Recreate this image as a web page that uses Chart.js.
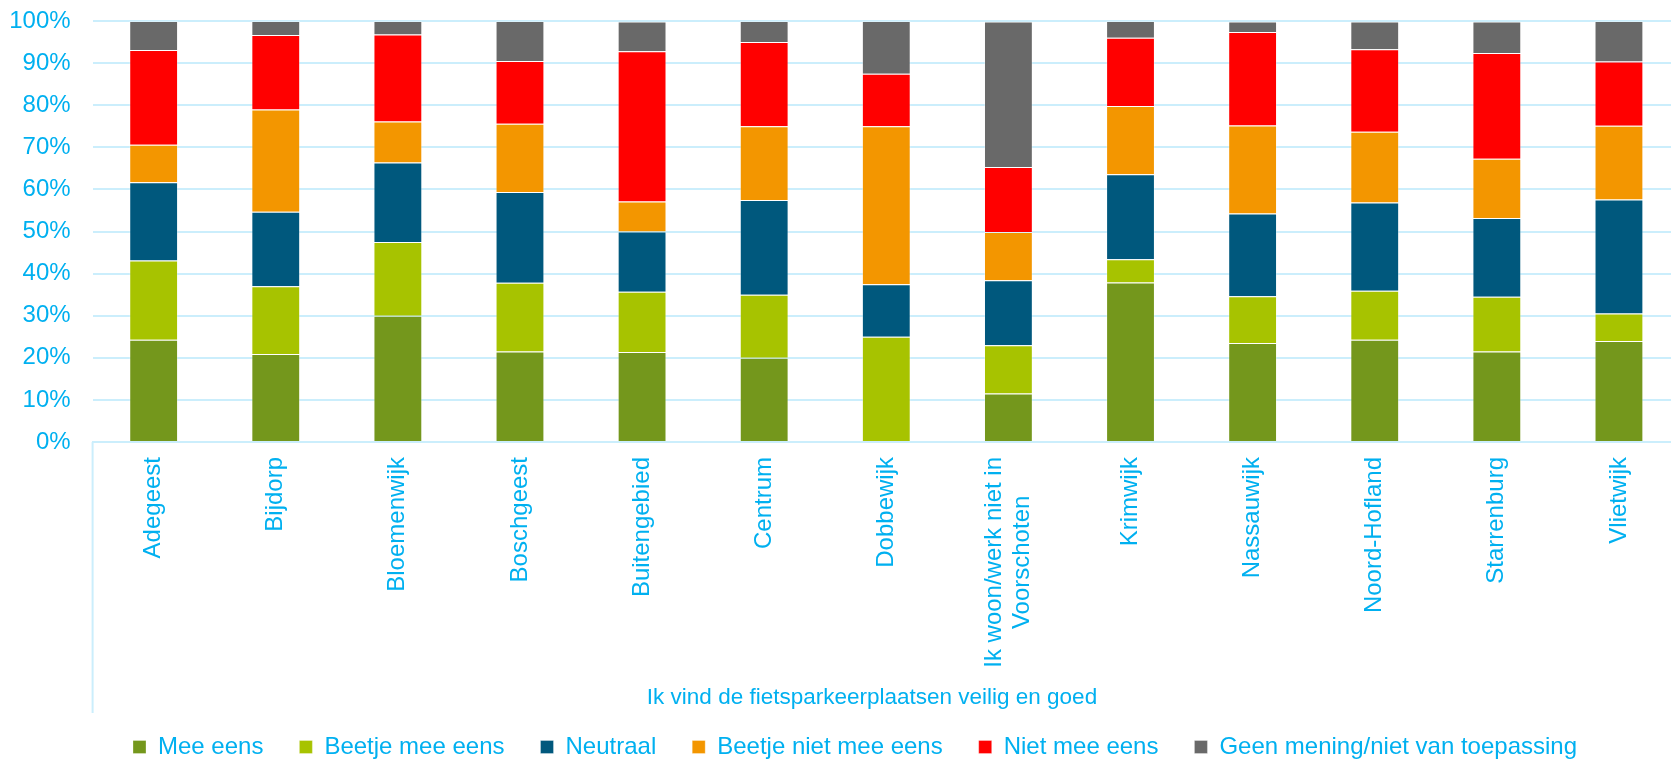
<!DOCTYPE html>
<html>
<head>
<meta charset="utf-8">
<title>Ik vind de fietsparkeerplaatsen veilig en goed</title>
<script src="https://cdn.jsdelivr.net/npm/chart.js@4/dist/chart.umd.min.js"></script>
<style>
    html, body { margin: 0; padding: 0; overflow: hidden; background: #fff; }
    canvas { display: block; }
</style>
</head>
<body>
<canvas id="chart" width="1680" height="769"></canvas>
<script>
// Categories (wijken)
const categories = [
    'Adegeest', 'Bijdorp', 'Bloemenwijk', 'Boschgeest', 'Buitengebied', 'Centrum', 'Dobbewijk',
    ['Ik woon/werk niet in', 'Voorschoten'], 'Krimwijk', 'Nassauwijk', 'Noord-Hofland', 'Starrenburg', 'Vlietwijk'
];

// Percentages per answer
const meeEens         = [24.3, 20.9, 30.0, 21.5, 21.4, 20.0,  0.0, 11.5, 37.9, 23.5, 24.3, 21.5, 24.0];
const beetjeMeeEens   = [18.8, 16.1, 17.5, 16.3, 14.3, 15.0, 25.0, 11.5,  5.5, 11.1, 11.6, 13.0,  6.5];
const neutraal        = [18.6, 17.7, 18.9, 21.6, 14.3, 22.5, 12.5, 15.4, 20.2, 19.7, 21.0, 18.7, 27.1];
const beetjeNietEens  = [ 8.9, 24.3,  9.7, 16.2,  7.1, 17.5, 37.5, 11.5, 16.2, 20.9, 16.8, 14.1, 17.5];
const nietMeeEens     = [22.5, 17.7, 20.7, 14.9, 35.7, 20.0, 12.5, 15.4, 16.2, 22.2, 19.6, 25.1, 15.3];
const geenMening      = [ 6.9,  3.3,  3.2,  9.5,  7.1,  5.0, 12.5, 34.6,  4.0,  2.5,  6.6,  7.5,  9.6];

const yTicks = [0, 10, 20, 30, 40, 50, 60, 70, 80, 90, 100];
const axisTitle = 'Ik vind de fietsparkeerplaatsen veilig en goed';

const textColor = '#00B0F0';
const lineColor = '#CBEEFC';
const fontFamily = "'Liberation Sans', Arial, Helvetica, sans-serif";
const labelFont = '24px ' + fontFamily;

function dataset(label, data, color) {
    return {
        label: label,
        data: data,
        backgroundColor: color,
        borderColor: 'rgba(255,255,255,0.3)',
        borderWidth: 1,
        barPercentage: 0.4,
        categoryPercentage: 1.0
    };
}

// Category labels (rotated, lines centred like Excel does), group title and label box border
const categoryAxisPlugin = {
    id: 'categoryAxis',
    afterLayout(chart) {
        // keep the legend centred the way the original is
        chart.legend.left = 30;
    },
    afterDraw(chart) {
        const ctx = chart.ctx;
        const area = chart.chartArea;
        const xScale = chart.scales.x;
        ctx.save();

        ctx.strokeStyle = lineColor;
        ctx.lineWidth = 2;
        ctx.beginPath();
        ctx.moveTo(area.left, area.bottom);
        ctx.lineTo(area.left, 713);
        ctx.stroke();

        ctx.fillStyle = textColor;
        ctx.font = labelFont;
        ctx.textAlign = 'center';
        ctx.textBaseline = 'middle';
        const lineHeight = 28;
        const top = area.bottom + 15;
        categories.forEach((cat, i) => {
            const lines = Array.isArray(cat) ? cat : [cat];
            const maxW = Math.max(...lines.map(l => ctx.measureText(l).width));
            const x = xScale.getPixelForValue(i);
            ctx.save();
            ctx.translate(x, top);
            ctx.rotate(-Math.PI / 2);
            lines.forEach((line, j) => {
                ctx.fillText(line, -maxW / 2, (j - (lines.length - 1) / 2) * lineHeight);
            });
            ctx.restore();
        });

        ctx.font = '22.5px ' + fontFamily;
        ctx.fillText(axisTitle, 872, 698);
        ctx.restore();
    }
};

const ctx = document.getElementById('chart').getContext('2d');
const chart = new Chart(ctx, {
    type: 'bar',
    data: {
        labels: categories,
        datasets: [
            dataset('Mee eens', meeEens, '#74971C'),
            dataset('Beetje mee eens', beetjeMeeEens, '#A7C300'),
            dataset('Neutraal', neutraal, '#00587D'),
            dataset('Beetje niet mee eens', beetjeNietEens, '#F39600'),
            dataset('Niet mee eens', nietMeeEens, '#FF0000'),
            dataset('Geen mening/niet van toepassing', geenMening, '#696969')
        ]
    },
    options: {
        responsive: false,
        animation: false,
        layout: {
            padding: { left: 0, top: 21, right: 0, bottom: 0 }
        },
        plugins: {
            legend: {
                position: 'bottom',
                labels: {
                    color: textColor,
                    font: { family: fontFamily, size: 24 },
                    boxWidth: 13,
                    boxHeight: 13,
                    padding: 36
                }
            },
            tooltip: { enabled: false }
        },
        scales: {
            x: {
                stacked: true,
                grid: { display: false, drawTicks: false },
                border: { color: lineColor, width: 2 },
                ticks: { display: false },
                afterFit(scale) {
                    scale.height = 257;
                }
            },
            y: {
                stacked: true,
                min: 0,
                max: 100,
                afterBuildTicks(scale) {
                    scale.ticks = yTicks.map(v => ({ value: v }));
                },
                grid: { color: lineColor, lineWidth: 2, drawTicks: false },
                border: { display: false },
                ticks: {
                    color: textColor,
                    font: { family: fontFamily, size: 24 },
                    padding: 22,
                    callback: value => value + '%'
                },
                afterFit(scale) {
                    scale.width = 92.6;
                    // the top label may overflow into the page margin, as in the original
                    scale.paddingTop = 0;
                    scale.paddingBottom = 0;
                }
            }
        }
    },
    plugins: [categoryAxisPlugin]
});
</script>
</body>
</html>
